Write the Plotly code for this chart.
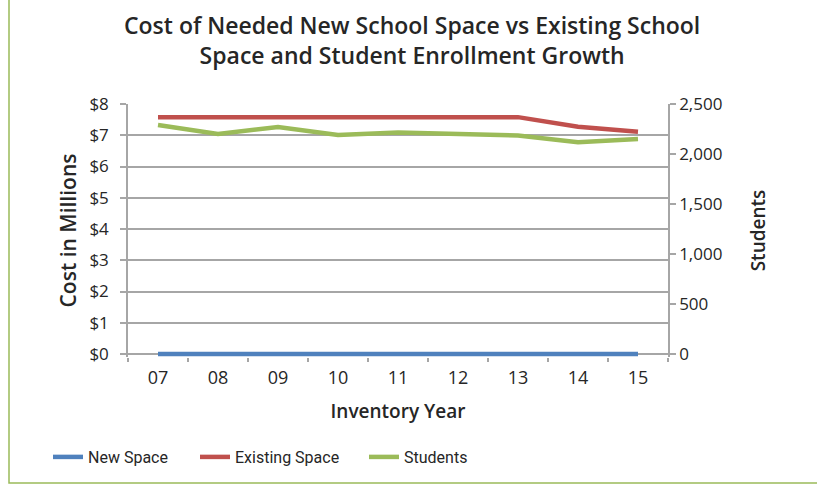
import plotly.graph_objects as go

years = ["07", "08", "09", "10", "11", "12", "13", "14", "15"]
new_space = [0, 0, 0, 0, 0, 0, 0, 0, 0]
existing_space = [7.58, 7.58, 7.58, 7.58, 7.58, 7.58, 7.58, 7.27, 7.11]
students = [2290, 2200, 2270, 2190, 2215, 2205, 2185, 2117, 2150]

left_ticks = [0, 1, 2, 3, 4, 5, 6, 7, 8]
left_labels = ["$" + str(v) for v in left_ticks]
right_ticks = [0, 500, 1000, 1500, 2000, 2500]
right_labels = ["0", "500", "1,000", "1,500", "2,000", "2,500"]

FONT = "Open Sans"
TXT = "#262626"
AX = "#A6A6A6"

# plot area in pixels (bottom a few px below the $0 line so the thick zero series is not clipped)
PL, PR, PT, PB = 128, 668, 104, 357
ZERO_PX = 354
W, H = 817, 487
PAD = 8 * (PB - ZERO_PX) / (ZERO_PX - PT)  # value units below zero


def px_x(px):
    return (px - PL) / (PR - PL)


def px_y(py):
    return (PB - py) / (PB - PT)


fig = go.Figure()
fig.add_trace(go.Scatter(x=years, y=new_space, name="New Space", mode="lines",
                         line=dict(color="#4F81BD", width=4.5), legend="legend"))
fig.add_trace(go.Scatter(x=years, y=existing_space, name="Existing Space", mode="lines",
                         line=dict(color="#C0504D", width=4.5), legend="legend2"))
fig.add_trace(go.Scatter(x=years, y=students, name="Students", mode="lines", yaxis="y2",
                         line=dict(color="#9BBB59", width=4.5), legend="legend3"))

LEG_FONT = "Roboto"
leg_common = dict(orientation="h", yanchor="middle", xanchor="left",
                  bgcolor="rgba(0,0,0,0)", font=dict(size=16, family=LEG_FONT, color=TXT),
                  itemwidth=30)
LEG_Y = px_y(457)

fig.update_layout(
    width=W, height=H,
    margin=dict(l=PL, r=W - PR, t=PT, b=H - PB, autoexpand=False),
    paper_bgcolor="white", plot_bgcolor="white",
    font=dict(family=FONT, color=TXT),
    xaxis=dict(type="category", tickson="boundaries", ticks="outside", ticklen=4,
               tickcolor=AX, tickwidth=1.5, showline=False,
               showgrid=False, tickfont=dict(size=18), range=[-0.5, 8.5], automargin=False,
               ticklabelstandoff=8, layer="below traces",
               title=dict(text="Inventory Year", font=dict(size=19, weight=600), standoff=16)),
    yaxis=dict(range=[-PAD, 8], tickvals=left_ticks, ticktext=left_labels,
               ticks="outside", ticklen=6, tickcolor=AX, tickwidth=1.5, showline=True, linecolor=AX,
               linewidth=1.5, showgrid=True, gridcolor=AX, gridwidth=1.5, automargin=False,
               zeroline=True, zerolinecolor=AX, zerolinewidth=1.5,
               tickfont=dict(size=17), ticklabelstandoff=8, layer="below traces",
               title=dict(text="Cost in Millions", font=dict(size=21, weight=600), standoff=7)),
    yaxis2=dict(range=[-PAD * 2500 / 8, 2500], tickvals=right_ticks, ticktext=right_labels,
                overlaying="y", side="right", ticks="outside", ticklen=6, tickcolor=AX, tickwidth=1.5,
                showline=True, linecolor=AX, linewidth=1.5, showgrid=False, zeroline=False,
                tickfont=dict(size=17), automargin=False, layer="below traces",
                title=dict(text="Students", font=dict(size=19, weight=600), standoff=30)),
    legend=dict(x=px_x(48), y=LEG_Y, **leg_common),
    legend2=dict(x=px_x(195), y=LEG_Y, **leg_common),
    legend3=dict(x=px_x(364), y=LEG_Y, **leg_common),
    showlegend=True,
)

fig.add_annotation(text="Cost of Needed New School Space vs Existing School<br>Space and Student Enrollment Growth",
                   xref="paper", yref="paper", x=px_x(412), y=px_y(40),
                   xanchor="center", yanchor="middle", showarrow=False, align="center",
                   font=dict(size=23, family=FONT, color=TXT, weight=600))

fig.add_shape(type="rect", xref="paper", yref="paper",
              x0=px_x(9), x1=px_x(840), y0=px_y(483), y1=px_y(-20),
              line=dict(color="#9BBB59", width=1.5), fillcolor="rgba(0,0,0,0)", layer="below")

fig.write_html("out.html", config={"displayModeBar": False},
               post_script="document.body.style.margin='0';")
